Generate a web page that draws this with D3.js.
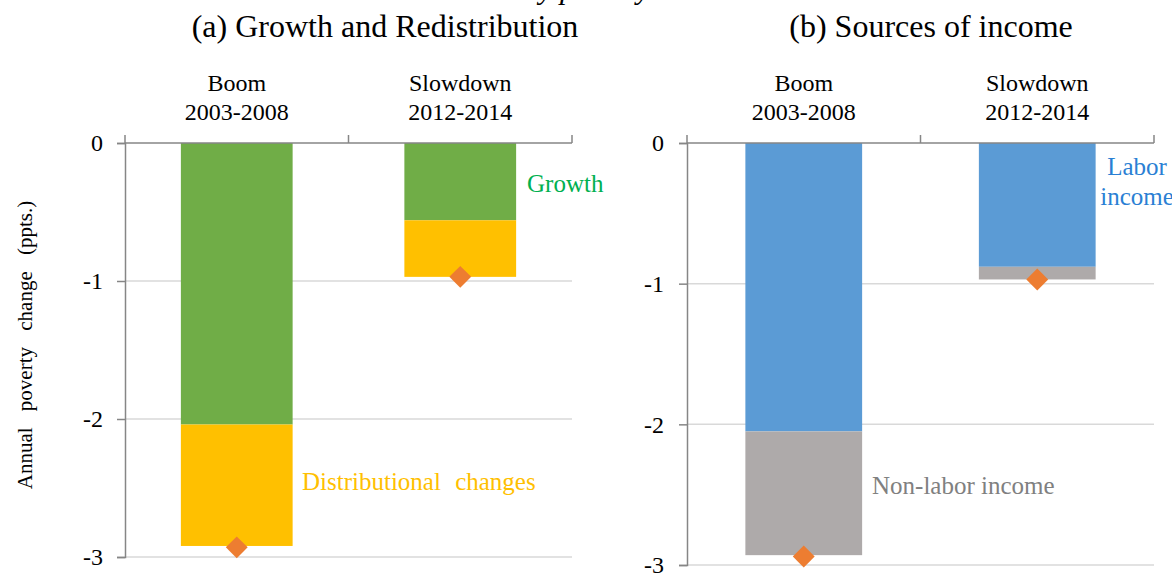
<!DOCTYPE html>
<html>
<head>
<meta charset="utf-8">
<script src="https://cdn.jsdelivr.net/npm/d3@7"></script>
<style>
  html, body { margin: 0; padding: 0; background: #fff; }
  svg { display: block; font-family: "Liberation Serif", "Times New Roman", serif; }
</style>
</head>
<body>
<div id="chart"></div>
<script>
// data
const periodNames = ["Boom", "Slowdown"];
const periodYears = ["2003-2008", "2012-2014"];
const yTicks = [0, -1, -2, -3];

// (a) growth and redistribution
const growth = [-2.04, -0.56];
const distribution = [-0.88, -0.41];
const totalA = [-2.93, -0.97];

// (b) sources of income
const laborIncome = [-2.05, -0.88];
const nonLaborIncome = [-0.88, -0.09];
const totalB = [-2.94, -0.97];

const width = 1172, height = 574;

const svg = d3.select("#chart").append("svg")
    .attr("width", width)
    .attr("height", height);

// clipped caption above the panels (only descenders show)
const cap = svg.append("text")
    .attr("x", 0)
    .attr("y", -1)
    .style("font-size", "30px")
    .style("font-style", "italic")
    .attr("fill", "#000")
    .text("Annual decline in monetary poverty");
const capIdx = cap.text().indexOf("poverty");
const capShift = 560 - cap.node().getStartPositionOfChar(capIdx).x;
cap.attr("x", capShift);

function drawPanel(cfg) {
  const g = svg.append("g");

  const x = d3.scaleBand()
      .domain(periodNames)
      .range([cfg.x0, cfg.x1])
      .paddingInner(0.5)
      .paddingOuter(0.25);

  const y = d3.scaleLinear()
      .domain([-3, 0])
      .range([cfg.yBottom, cfg.yTop]);

  // title
  g.append("text")
      .attr("x", cfg.titleX)
      .attr("y", 37)
      .attr("text-anchor", "middle")
      .style("font-size", "32px")
      .text(cfg.title);

  // gridlines
  g.selectAll(".grid").data(yTicks.filter(d => d !== 0))
    .enter().append("line")
      .attr("x1", cfg.x0)
      .attr("x2", cfg.x1)
      .attr("y1", d => y(d))
      .attr("y2", d => y(d))
      .attr("stroke", "#d9d9d9")
      .attr("stroke-width", 1.5);

  // stacked bars
  const rows = periodNames.map((p, i) => ({
    name: p,
    first: cfg.first[i],
    second: cfg.second[i],
    total: cfg.total[i]
  }));

  g.selectAll(".b1").data(rows)
    .enter().append("rect")
      .attr("x", d => x(d.name))
      .attr("width", x.bandwidth())
      .attr("y", y(0))
      .attr("height", d => y(d.first) - y(0))
      .attr("fill", cfg.colors[0]);

  g.selectAll(".b2").data(rows)
    .enter().append("rect")
      .attr("x", d => x(d.name))
      .attr("width", x.bandwidth())
      .attr("y", d => y(d.first))
      .attr("height", d => y(d.first + d.second) - y(d.first))
      .attr("fill", cfg.colors[1]);

  // left axis
  const yAxis = d3.axisLeft(y)
      .tickValues(yTicks)
      .tickSize(8)
      .tickPadding(cfg.tickPad)
      .tickFormat(d => String(d));

  const yAxisG = g.append("g")
      .attr("transform", `translate(${cfg.x0},0)`)
      .attr("font-family", null)
      .call(yAxis);
  yAxisG.attr("font-family", "Liberation Serif").attr("font-size", 24);
  yAxisG.select(".domain").attr("stroke", "#868686").attr("stroke-width", 1.5);
  yAxisG.selectAll(".tick line").attr("stroke", "#868686").attr("stroke-width", 1.5);
  yAxisG.selectAll(".tick text").attr("fill", "#000");

  // top category axis (line at zero with boundary ticks)
  const bounds = [x.range()[0]].concat(periodNames.map(p => x(p) + x.bandwidth() + x.step() * x.paddingInner() / 2));
  g.append("line")
      .attr("x1", cfg.x0).attr("x2", cfg.x1)
      .attr("y1", y(0)).attr("y2", y(0))
      .attr("stroke", "#868686").attr("stroke-width", 1.5);
  g.selectAll(".ctick").data(bounds)
    .enter().append("line")
      .attr("x1", d => d).attr("x2", d => d)
      .attr("y1", y(0)).attr("y2", y(0) - 8)
      .attr("stroke", "#868686").attr("stroke-width", 1.5);

  // category labels
  g.selectAll(".cname").data(periodNames)
    .enter().append("text")
      .attr("x", d => x(d) + x.bandwidth() / 2)
      .attr("y", 91)
      .attr("text-anchor", "middle")
      .style("font-size", "24px")
      .text(d => d);
  g.selectAll(".cyear").data(periodNames)
    .enter().append("text")
      .attr("x", d => x(d) + x.bandwidth() / 2)
      .attr("y", 120)
      .attr("text-anchor", "middle")
      .style("font-size", "24px")
      .text((d, i) => periodYears[i]);

  // total markers
  g.selectAll(".mark").data(rows)
    .enter().append("path")
      .attr("d", d3.symbol(d3.symbolSquare, 240))
      .attr("transform", d => `translate(${x(d.name) + x.bandwidth() / 2},${y(d.total)}) rotate(45)`)
      .attr("fill", "#ED7D31");

  // series labels
  cfg.labels.forEach(l => {
    const t = g.append("text")
        .attr("x", l.x)
        .attr("y", l.y)
        .attr("fill", l.color)
        .attr("text-anchor", l.anchor || "start")
        .style("font-size", "25px")
        .style("word-spacing", l.ws || "0px");
    l.lines.forEach((s, k) => {
      t.append("tspan")
          .attr("x", l.x)
          .attr("dy", k === 0 ? 0 : 30)
          .text(s);
    });
  });

  return g;
}

drawPanel({
  x0: 125, x1: 572, yTop: 143, yBottom: 557,
  titleX: 385, title: "(a)  Growth and Redistribution",
  tickPad: 14,
  first: growth, second: distribution, total: totalA,
  colors: ["#70AD47", "#FFC000"],
  labels: [
    { x: 527, y: 192, color: "#00B050", lines: ["Growth"] },
    { x: 302, y: 490, color: "#FFC000", lines: ["Distributional changes"], ws: "8px" }
  ]
});

drawPanel({
  x0: 687, x1: 1154, yTop: 143, yBottom: 565,
  titleX: 931, title: "(b) Sources of income",
  tickPad: 15,
  first: laborIncome, second: nonLaborIncome, total: totalB,
  colors: ["#5B9BD5", "#AEAAAA"],
  labels: [
    { x: 1137, y: 175, color: "#2A7FD4", anchor: "middle", lines: ["Labor", "income"] },
    { x: 872, y: 494, color: "#808080", lines: ["Non-labor income"] }
  ]
});

// y axis title
svg.append("text")
    .attr("transform", "translate(32,345) rotate(-90)")
    .attr("text-anchor", "middle")
    .style("font-size", "21px")
    .style("word-spacing", "11px")
    .text("Annual poverty change (ppts.)");
</script>
</body>
</html>
